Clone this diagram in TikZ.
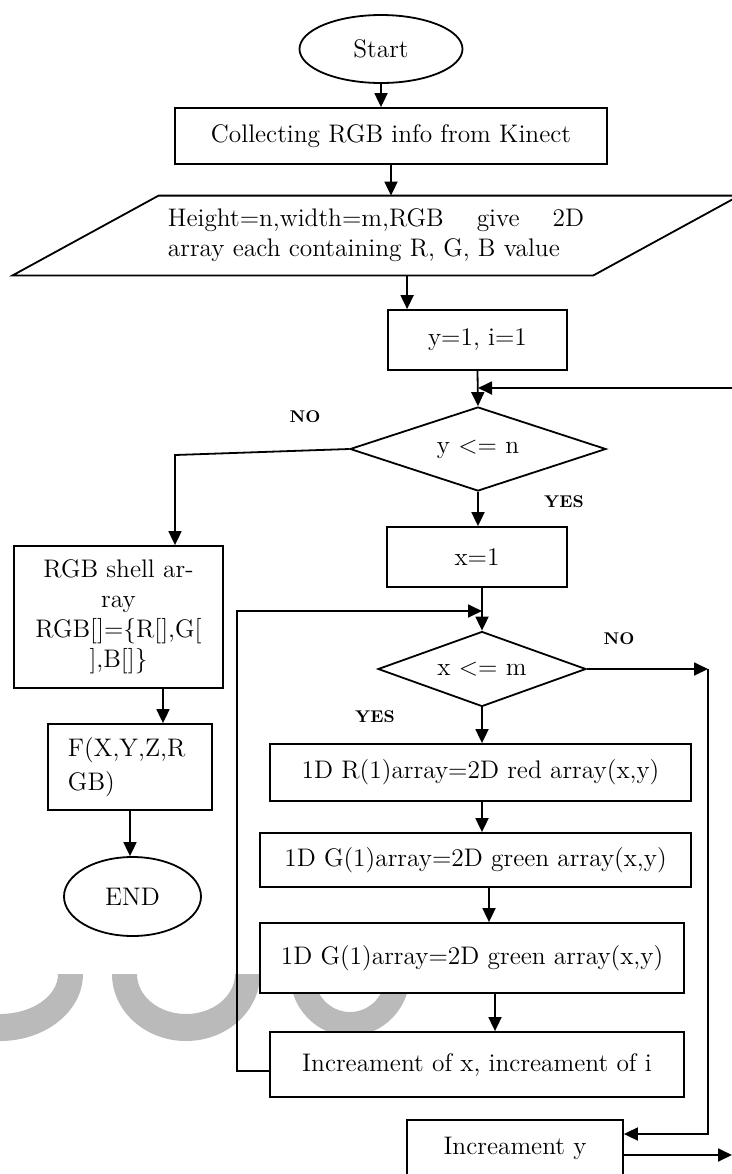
\documentclass[tikz,border=0pt]{standalone}
\usepackage{fontspec}
\usepackage{tikz}
\usetikzlibrary{shapes, shapes.geometric, arrows.meta, positioning, calc}

\begin{document}
\begin{tikzpicture}[x=0.5pt, y=-0.5pt, >={Triangle[length=7pt,width=6.5pt]},
    box/.style={draw, fill=white, line width=0.9pt, font=\fontsize{12.7}{15}\selectfont, inner sep=0pt},
    term/.style={box, ellipse},
    cond/.style={box, diamond, aspect=3},
    arr/.style={->, line width=0.9pt},
    lbl/.style={font=\fontsize{8.5}{10}\selectfont\bfseries},
    wm/.style={fill=black!27}]
    \useasboundingbox (0,0) rectangle (732,1174);
    \clip (0,0) rectangle (732,1174);

    % Watermark
    \fill[wm] (83,974) arc[start angle=0, end angle=90, x radius=83, y radius=67] -- (0,1014)
        arc[start angle=90, end angle=0, x radius=58, y radius=40] -- cycle;
    \fill[wm] (112,974) arc[start angle=180, end angle=0, x radius=74, y radius=67] -- (235,974)
        arc[start angle=0, end angle=180, x radius=49, y radius=40] -- cycle;
    \fill[wm] (290,974) arc[start angle=180, end angle=0, x radius=60, y radius=62] -- (386,974)
        arc[start angle=0, end angle=180, x radius=36, y radius=38] -- cycle;

    % Outer loop
    \node[term, minimum width=81.5pt, minimum height=34pt] (start) at (381,49) {Start};
    \node[box, minimum width=216pt, minimum height=28pt] (coll) at (391,136) {Collecting RGB info from Kinect};
    \node[minimum width=290pt, minimum height=39.5pt, inner sep=0pt, align=left,
        font=\fontsize{12.7}{15}\selectfont] (par) at (376,235.5)
        {Height=n,width=m,RGB\hspace{1.3em}give\hspace{1.3em}2D\\array each containing R, G, B value};
    \draw[line width=0.9pt] ([xshift=-36.5pt]par.south west) -- ([xshift=-36.5pt]par.south east)
        -- ([xshift=36.5pt]par.north east) -- ([xshift=36.5pt]par.north west) -- cycle;
    \node[box, minimum width=89.5pt, minimum height=30pt] (yone) at (477.5,340) {y=1, i=1};
    \node[cond, minimum width=128pt, minimum height=42pt] (dy) at (478,449) {y <= n};
    \node[box, minimum width=90pt, minimum height=30pt] (xone) at (477,557) {x=1};

    % Inner loop
    \node[cond, minimum width=104pt, minimum height=37.5pt] (dx) at (482,669) {x <= m};
    \node[box, minimum width=210.5pt, minimum height=28.5pt] (red) at (480.5,772.5) {1D R(1)array=2D red array(x,y)};
    \node[box, minimum width=215.5pt, minimum height=27pt] (gone) at (475.5,860) {1D G(1)array=2D green array(x,y)};
    \node[box, minimum width=212pt, minimum height=35pt] (gtwo) at (472,958) {1D G(1)array=2D green array(x,y)};
    \node[box, minimum width=207pt, minimum height=32.5pt] (incx) at (477,1064.5) {Increament of x, increament of i};
    \node[box, minimum width=108pt, minimum height=28pt] (incy) at (515,1148) {Increament y};

    % Exit branch
    \node[box, minimum width=104.5pt, minimum height=71pt, align=center] (rgb) at (118.5,617)
        {RGB shell ar-\\ray\\RGB[]=\{R[],G[\\],B[]\}};
    \node[box, minimum width=82pt, minimum height=43pt, text width=62pt, align=left] (fbox) at (130,767)
        {F(X,Y,Z,R\\[2pt]GB)};
    \node[term, minimum width=68.5pt, minimum height=39.5pt] (endn) at (132.5,896.5) {END};

    % Branch labels
    \node[lbl] (noy) at (305,417) {NO};
    \node[lbl] (yesy) at (564,502) {YES};
    \node[lbl] (nox) at (619,639) {NO};
    \node[lbl] (yesx) at (375,717) {YES};

    % Connectors
    \coordinate (back) at (732,388);
    \coordinate (nobend) at (175,455);
    \coordinate (rail) at (708,669);
    \coordinate (railb) at (708,1134);
    \coordinate (loopl) at (237,1071);
    \coordinate (loopt) at (237,611);
    \coordinate (out) at (732,1155);

    \draw[arr] (start.south) -- (start.south |- coll.north);
    \draw[arr] (coll.south) -- (coll.south |- par.north);
    \draw[arr] ([xshift=10pt]yone.north west |- par.south) -- ([xshift=10pt]yone.north west);
    \draw[arr] (yone.south) -- (dy.north);
    \draw[arr] (back) -- (back -| dy.north);
    \draw[arr] (dy.west) -- (nobend) -- (nobend |- rgb.north);
    \draw[arr] (dy.south) -- (dy.south |- xone.north);
    \draw[arr] (xone.south -| dx.north) -- (dx.north);
    \draw[arr] (dx.east) -- (rail);
    \draw[arr] (rail) -- (railb) -- (railb -| incy.east);
    \draw[arr] (dx.south) -- (dx.south |- red.north);
    \draw[arr] (dx.south |- red.south) -- (dx.south |- gone.north);
    \draw[arr] ([xshift=6.75pt]gone.south) -- ([xshift=6.75pt]gone.south |- gtwo.north);
    \draw[arr] ([xshift=11.5pt]gtwo.south) -- ([xshift=11.5pt]gtwo.south |- incx.north);
    \draw[arr] (loopl -| incx.west) -- (loopl) -- (loopt) -- (loopt -| dx.north);
    \draw[arr] (incy.east |- out) -- (out);
    \draw[arr] ([xshift=16.5pt]fbox.north |- rgb.south) -- ([xshift=16.5pt]fbox.north);
    \draw[arr] (fbox.south) -- (fbox.south |- endn.north);
\end{tikzpicture}
\end{document}
